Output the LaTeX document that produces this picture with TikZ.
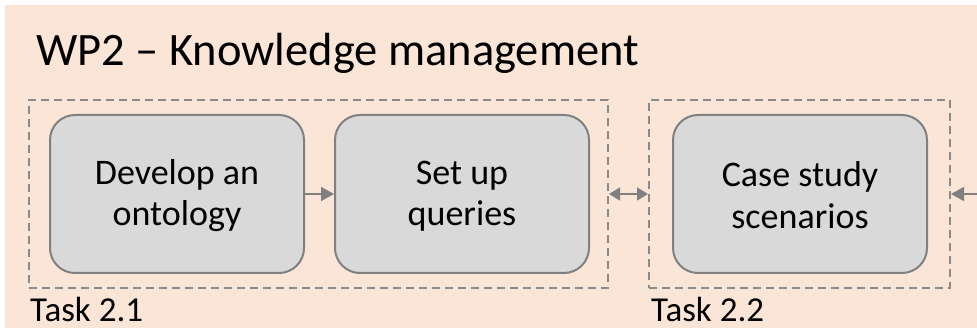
\documentclass[tikz,border=0pt]{standalone}
\usepackage{fontspec}
\setmainfont{Carlito}
\usetikzlibrary{arrows.meta}
\definecolor{peach}{HTML}{FBE5D6}
\definecolor{boxfill}{HTML}{D9D9D9}
\definecolor{boxline}{HTML}{808080}
\definecolor{dashline}{HTML}{8A8A8A}
\tikzset{
  taskbox/.style={draw=boxline, line width=2pt, fill=boxfill, rounded corners=25pt,
    minimum width=254pt, minimum height=158pt, inner sep=0pt},
  linetext/.style={anchor=base, inner sep=0pt, font=\fontsize{36}{42}\selectfont},
  groupbox/.style={draw=dashline, line width=2pt, dash pattern=on 8pt off 5pt,
    minimum height=188pt, inner sep=0pt},
  arr/.style={draw=boxline, line width=1.6pt, -{Triangle[length=13pt,width=14pt]}},
  darr/.style={draw=boxline, line width=1.6pt, {Triangle[length=11pt,width=13pt]}-{Triangle[length=11pt,width=13pt]}},
  lbl/.style={anchor=base west, inner sep=0pt, font=\fontsize{35}{40}\selectfont},
}
\begin{document}
\begin{tikzpicture}[x=1pt,y=-1pt]
\useasboundingbox (0,0) rectangle (977,328);
\fill[white] (0,0) rectangle (977,328);
\fill[peach] (5,5) rectangle (977,328);
\node[anchor=base west, inner sep=0pt, font=\fontsize{46.5}{54}\selectfont] (title) at (36,66) {WP2 – Knowledge management};
\node[groupbox, minimum width=579pt] (g1) at (318.5,194) {};
\node[groupbox, minimum width=301pt] (g2) at (799.5,194) {};
\node[taskbox] (b1) at (177,194) {};
\node[taskbox] (b2) at (462,194) {};
\node[taskbox] (b3) at (800,194) {};
\node[linetext] (b1a) at (177,185) {Develop an};
\node[linetext] (b1b) at (177,226) {ontology};
\node[linetext] (b2a) at (462,185) {Set up};
\node[linetext] (b2b) at (462,226) {queries};
\node[linetext] (b3a) at (800,187) {Case study};
\node[linetext] (b3b) at (800,229) {scenarios};
\draw[arr] (b1.east) -- (b2.west);
\draw[darr] (g1.east) -- (g2.west);
\coordinate (rin) at (977,194);
\draw[arr] (rin) -- (g2.east);
\node[lbl] (l1) at (30,322) {Task 2.1};
\node[lbl] (l2) at (651,322) {Task 2.2};
\end{tikzpicture}
\end{document}
